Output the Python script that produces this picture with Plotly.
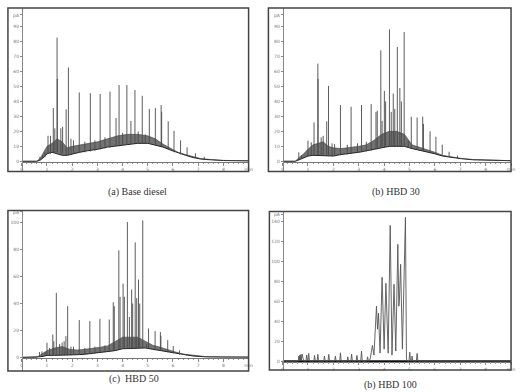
import plotly.graph_objects as go

W, H = 520, 392

# ---------------- Panel (a) Base diesel ----------------
a_t    = [0, 0.6, 0.75, 0.9, 1.0, 1.2, 1.4, 1.6, 1.8, 2.0, 2.3, 2.6, 3.0, 3.4, 3.8, 4.2, 4.6, 5.0, 5.3, 5.6, 5.9, 6.2, 6.5, 6.8, 7.1, 7.5, 8.0, 9.0]
a_base = [0, 0, 1, 3, 5, 6, 5, 4, 4, 5, 6, 7, 8, 9.5, 10.5, 11.5, 12, 12, 11, 9.5, 7.5, 5.5, 4, 2.5, 1.5, 1, 0.5, 0.3]
a_band = [0, 0, 2.5, 6.5, 10, 12, 15, 13, 9, 10, 11, 12, 13, 15, 17, 18, 18, 17, 15, 11.5, 8.5, 6, 4.5, 3, 1.8, 1.2, 0.6, 0.3]
a_pk_t = [0.72, 0.82, 0.92, 1.04, 1.14, 1.25, 1.31, 1.40, 1.41, 1.55, 1.62, 1.76, 1.85, 1.95, 2.05, 2.28, 2.5, 2.72, 2.9, 3.11, 3.3, 3.50, 3.74, 3.86, 4.0, 4.17, 4.33, 4.49, 4.62, 4.78, 4.9, 5.06, 5.30, 5.53, 5.55, 5.81, 6.04, 6.30, 6.56, 6.89, 7.24]
a_pk_h = [3, 4, 6, 17, 17, 35.6, 22, 82.7, 55, 22, 23, 34.7, 62.7, 15, 14, 46, 13, 45.5, 14, 45, 16, 46.6, 29, 51, 19, 51, 27, 47.6, 20, 43.8, 18, 35, 35.5, 37.6, 33, 26.7, 20.4, 14, 9.3, 5.3, 3]
a_pk_b = [0.5, 1.5, 3, 5, 5, 6, 6, 6, 6, 5, 5, 4, 4, 4, 5, 5.5, 6, 6.5, 7, 8, 8.5, 9, 10, 10, 11, 11, 11.5, 12, 12, 12, 12, 12, 11, 10, 10, 8, 6, 4.5, 3.5, 2.5, 1.5]

# ---------------- Panel (b) HBD 30 ----------------
b_t    = [0, 0.5, 0.65, 0.8, 1.0, 1.2, 1.4, 1.6, 1.8, 2.0, 2.3, 2.6, 3.0, 3.3, 3.6, 3.9, 4.2, 4.5, 4.8, 5.1, 5.4, 5.7, 6.0, 6.3, 6.6, 7.0, 7.5, 8.2, 9.0]
b_base = [0, 0, 1, 2, 3.5, 4, 4, 3.5, 3.5, 3.5, 4.5, 5, 6, 7, 8, 9, 10, 10, 10, 8.5, 7.5, 6, 5, 3.5, 2.7, 1.8, 1, 0.5, 0.4]
b_band = [0, 0, 2.5, 4.5, 8, 11, 12, 13, 10, 9, 8.5, 9, 10, 11, 14, 18, 20, 20, 18, 11, 9.5, 7.5, 6, 4, 3, 2, 1.2, 0.6, 0.4]
b_pk_t = [0.64, 0.75, 1.0, 1.13, 1.24, 1.39, 1.40, 1.52, 1.6, 1.74, 1.81, 1.95, 2.05, 2.28, 2.55, 2.70, 2.95, 3.11, 3.3, 3.49, 3.68, 3.73, 3.87, 3.92, 4.01, 4.06, 4.21, 4.28, 4.36, 4.42, 4.52, 4.62, 4.68, 4.79, 4.95, 5.07, 5.30, 5.52, 5.55, 5.81, 6.04, 6.29, 6.56, 6.89]
b_pk_h = [6, 4, 13.8, 12.7, 26, 65.3, 55, 16, 17, 26.7, 50.4, 12, 11.5, 37.6, 11, 36.4, 12, 37.6, 13, 38.2, 33, 33.8, 74.2, 27, 47, 40, 88.2, 33, 45.3, 35, 76.4, 49, 40, 86.4, 14, 29.8, 29.3, 29.8, 25, 20, 16.4, 11.1, 6.4, 3.8]
b_pk_b = [1, 1.5, 3.5, 4, 4, 4, 4, 4, 4, 3.5, 3.5, 3.5, 3.5, 4, 4.5, 5, 6, 6, 6.5, 7, 8, 8, 9, 9, 9, 9.5, 10, 10, 10, 10, 10, 10, 10, 10, 9, 8.5, 7.5, 7, 7, 6, 5, 3.8, 2.8, 2.2]

# ---------------- Panel (c) HBD 50 ----------------
c_t    = [0, 0.6, 0.75, 0.9, 1.0, 1.3, 1.6, 1.9, 2.2, 2.5, 2.8, 3.1, 3.4, 3.7, 4.0, 4.3, 4.6, 4.9, 5.2, 5.5, 5.8, 6.1, 6.4, 6.8, 7.3, 8.0, 9.0]
c_base = [0, 0, 0.5, 1, 1.5, 1.5, 1.5, 1.5, 2, 2.3, 3, 3.5, 4, 5, 6.4, 6.5, 7, 7, 6, 5, 3.8, 2.8, 1.8, 1, 0.4, 0.2, 0.2]
c_band = [0, 0, 2, 3.5, 5, 7, 8, 6, 5.5, 6, 6.5, 7.5, 8.5, 12, 15, 15, 15, 12, 9, 7.5, 5.5, 4, 2.5, 1.5, 0.6, 0.3, 0.2]
c_pk_t = [0.7, 0.8, 0.92, 1.0, 1.1, 1.23, 1.27, 1.37, 1.5, 1.6, 1.68, 1.75, 1.82, 1.95, 2.05, 2.28, 2.5, 2.70, 2.9, 3.10, 3.3, 3.47, 3.63, 3.67, 3.85, 3.9, 4.02, 4.07, 4.19, 4.27, 4.36, 4.40, 4.50, 4.56, 4.63, 4.68, 4.80, 4.95, 5.03, 5.29, 5.50, 5.52, 5.79, 6.01, 6.26, 6.53, 6.9]
c_pk_h = [4, 4.5, 4, 10.9, 7, 17, 12, 47.9, 10, 11, 12, 15.8, 38, 8, 8, 27.7, 7, 26.9, 8, 28.6, 9, 28.1, 41, 38, 79.5, 45, 54.8, 45, 100.5, 30, 50.4, 40, 85.4, 44, 57.8, 40, 101.7, 10, 21.5, 19.5, 18.8, 16, 12.8, 8.4, 5.2, 2.5, 1.5]
c_pk_b = [0.5, 0.8, 1, 1.5, 1.5, 1.5, 1.5, 1.5, 1.5, 1.5, 1.5, 1.5, 1.5, 1.5, 2, 2, 2.3, 2.8, 3, 3.5, 3.8, 4.2, 4.8, 5, 6, 6, 6.4, 6.4, 6.4, 6.5, 6.5, 6.5, 7, 7, 7, 7, 7, 7, 6.5, 6, 5, 5, 3.8, 3, 2, 1.2, 0.8]

# ---------------- Panel (d) HBD 100 (trace profile) ----------------
d_t = [0, 0.62, 0.64, 0.66, 0.68, 0.70, 0.72, 0.74, 0.77, 0.80, 0.83, 0.92, 0.95, 0.98, 1.0, 1.03, 1.06,
       1.23, 1.26, 1.29, 1.36, 1.39, 1.42, 1.62, 1.65, 1.68, 1.79, 1.82, 1.85, 2.05, 2.08, 2.11, 2.25, 2.28, 2.31,
       2.54, 2.57, 2.60, 2.69, 2.72, 2.75, 2.90, 2.93, 2.96, 3.08, 3.11, 3.14, 3.32, 3.35, 3.38, 3.45, 3.54, 3.60,
       3.70, 3.74, 3.78, 3.84, 3.92, 4.00, 4.07, 4.12, 4.16, 4.24, 4.31, 4.39, 4.46, 4.54, 4.58, 4.60, 4.65, 4.72,
       4.84, 4.88, 4.92, 4.98, 5.01, 5.04, 5.08, 5.10, 5.13, 5.27, 5.30, 5.33, 9.0]
d_v = [0, 0, 5, 1, 6, 1, 6.5, 1, 7, 1, 0, 0, 6, 0.5, 0.5, 7.7, 0,
       0, 5.7, 0, 0, 6.7, 0, 0, 5, 0, 0, 6.7, 0, 0, 5, 0, 0, 8.3, 0,
       0, 4.3, 0, 0, 7, 0, 0, 5.7, 0, 0, 10, 0, 0, 4.3, 0, 2, 15.7, 6,
       55, 32, 48, 8, 84, 12, 78, 40, 8, 136, 6, 77, 10, 117, 55, 60, 97, 12,
       144, 2, 0, 0, 9, 0, 0, 5, 0, 0, 7.7, 0, 0]

captions = ["(a) Base diesel", "(b) HBD 30", "(c)  HBD 50", "(b) HBD 100"]


def fx(p):
    return p / W


def fy(p):
    return 1 - p / H


panels = [
    dict(frame=(7, 7, 250, 171), ax0=21, ax9=250, zero=160.7, scale=1.5,
         yt=[0, 10, 20, 30, 40, 50, 60, 70, 80, 90], pa=97.8, cap=(138, 191)),
    dict(frame=(270, 7, 515, 171), ax0=284.3, ax9=515, zero=160.7, scale=1.5,
         yt=[0, 10, 20, 30, 40, 50, 60, 70, 80, 90], pa=97.8, cap=(399, 191)),
    dict(frame=(7, 210, 250, 371), ax0=21, ax9=250, zero=357.3, scale=1.35,
         yt=[0, 20, 40, 60, 80, 100], pa=108, cap=(134, 379)),
    dict(frame=(271, 211, 515, 370), ax0=284.3, ax9=515, zero=361, scale=1.0,
         yt=[0, 20, 40, 60, 80, 100, 120, 140], pa=147, cap=(393, 385)),
]

fig = go.Figure()


def add_spikes(i, ts, tops, bases):
    xs, ys = [], []
    for t, h, b in zip(ts, tops, bases):
        xs += [t, t, None]
        ys += [b, h, None]
    fig.add_trace(go.Scatter(x=xs, y=ys, mode="lines", xaxis=f"x{i}", yaxis=f"y{i}",
                             line=dict(color="#4a4a4a", width=0.9), hoverinfo="skip",
                             showlegend=False))


def add_hump(i, ts, base, band):
    fig.add_trace(go.Scatter(x=ts, y=base, mode="lines", xaxis=f"x{i}", yaxis=f"y{i}",
                             line=dict(color="#222", width=1.0), showlegend=False,
                             hoverinfo="skip"))
    fig.add_trace(go.Scatter(x=ts, y=band, mode="lines", xaxis=f"x{i}", yaxis=f"y{i}",
                             fill="tonexty", fillcolor="rgba(60,60,60,0.72)",
                             line=dict(color="#444", width=0.6), showlegend=False,
                             hoverinfo="skip"))


add_hump("", a_t, a_base, a_band)
add_spikes("", a_pk_t, a_pk_h, a_pk_b)
add_hump("2", b_t, b_base, b_band)
add_spikes("2", b_pk_t, b_pk_h, b_pk_b)
add_hump("3", c_t, c_base, c_band)
add_spikes("3", c_pk_t, c_pk_h, c_pk_b)
fig.add_trace(go.Scatter(x=[0, 9], y=[0, 0], mode="lines", xaxis="x4", yaxis="y4",
                         line=dict(color="#111", width=1.6), showlegend=False, hoverinfo="skip"))
fig.add_trace(go.Scatter(x=d_t, y=d_v, mode="lines", xaxis="x4", yaxis="y4",
                         line=dict(color="#555", width=0.9), showlegend=False, hoverinfo="skip"))

layout = dict(width=W, height=H, margin=dict(l=0, r=0, t=0, b=0),
              paper_bgcolor="white", plot_bgcolor="white", showlegend=False)
shapes, annotations = [], []
xt = list(range(10))
xtt = [str(v) for v in range(9)] + ["min"]
for k, p in enumerate(panels):
    sfx = "" if k == 0 else str(k + 1)
    x0, y0, x1, y1 = p["frame"]
    ylo = (p["zero"] - y1) / p["scale"]
    yhi = (p["zero"] - y0) / p["scale"]
    layout["xaxis" + sfx] = dict(
        domain=[fx(p["ax0"]), fx(p["ax9"])], range=[0, 9], anchor="free",
        position=fy(p["zero"] + 0.5), showgrid=False, zeroline=False,
        showline=True, linecolor="#777", linewidth=0.8,
        ticks="outside", ticklen=3, tickcolor="#888", tickwidth=0.8,
        tickvals=xt, ticktext=xtt, tickfont=dict(size=4.5, color="#777", family="DejaVu Sans"),
        minor=dict(dtick=0.2, ticks="outside", ticklen=1.5, tickcolor="#999", tickwidth=0.6),
        fixedrange=True,
    )
    layout["yaxis" + sfx] = dict(
        domain=[fy(y1), fy(y0)], range=[ylo, yhi], anchor="free",
        position=fx(p["ax0"]), showgrid=False, zeroline=False,
        showline=True, linecolor="#888", linewidth=0.7,
        ticks="outside", ticklen=2, tickcolor="#888", tickwidth=0.7,
        tickvals=p["yt"] + [p["pa"]], ticktext=[str(v) for v in p["yt"]] + ["pA"],
        tickfont=dict(size=4.5, color="#777", family="DejaVu Sans"), fixedrange=True,
    )
    shapes.append(dict(type="rect", xref="paper", yref="paper",
                       x0=fx(x0), x1=fx(x1), y0=fy(y1), y1=fy(y0),
                       line=dict(color="#444", width=1.5), fillcolor="rgba(0,0,0,0)"))
    cx, cy = p["cap"]
    annotations.append(dict(text=captions[k], xref="paper", yref="paper",
                            x=fx(cx), y=fy(cy), xanchor="center", yanchor="middle",
                            showarrow=False,
                            font=dict(family="Liberation Serif", size=10, color="#333")))
layout["shapes"] = shapes
layout["annotations"] = annotations
fig.update_layout(**layout)
fig.write_html("out.html")
